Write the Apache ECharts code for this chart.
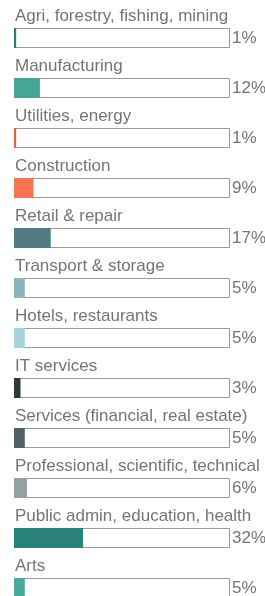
<!DOCTYPE html>
<html>
<head>
<meta charset="utf-8">
<script src="https://cdn.jsdelivr.net/npm/echarts@6/dist/echarts.min.js"></script>
<style>
  html, body { margin: 0; padding: 0; background: #fff; }
  #chart { width: 265px; height: 596px; }
</style>
</head>
<body>
<div id="chart"></div>
<script>
var categories = [
  'Agri, forestry, fishing, mining',
  'Manufacturing',
  'Utilities, energy',
  'Construction',
  'Retail & repair',
  'Transport & storage',
  'Hotels, restaurants',
  'IT services',
  'Services (financial, real estate)',
  'Professional, scientific, technical',
  'Public admin, education, health',
  'Arts'
];
var shares = [1, 12, 1, 9, 17, 5, 5, 3, 5, 6, 32, 5];
var barColors = [
  '#2e7d74', '#45a596', '#e5603e', '#fb7352', '#4f7b82', '#8fb3bb',
  '#a8d3dc', '#2d3a3d', '#50636a', '#93a1a5', '#2a8378', '#48a99c'
];
var fullScale = 100;

var chart = echarts.init(document.getElementById('chart'));
var textColor = '#747474';
var font = 'Liberation Sans, Arial, sans-serif';

chart.setOption({
  animation: false,
  grid: { left: 14, right: 35, top: 13, height: 600, outerBoundsMode: 'none', containLabel: false },
  xAxis: { type: 'value', min: 0, max: fullScale, show: false },
  yAxis: { type: 'category', data: categories, inverse: true, show: false },
  series: [
    {
      // white track with grey outline, carries the percent label
      type: 'bar',
      barWidth: 20,
      silent: true,
      data: categories.map(function () { return fullScale; }),
      itemStyle: { color: '#fff', borderColor: '#9a9a9a', borderWidth: 1 },
      label: {
        show: true,
        position: 'right',
        distance: 2,
        color: textColor,
        fontFamily: font,
        fontSize: 17,
        formatter: function (p) { return shares[p.dataIndex] + '%'; }
      },
      z: 1
    },
    {
      // coloured fill, carries the category name above the track
      type: 'bar',
      barWidth: 20,
      barGap: '-100%',
      data: shares.map(function (v, i) {
        return { value: v, itemStyle: { color: barColors[i] } };
      }),
      label: {
        show: true,
        position: [1, -12],
        align: 'left',
        verticalAlign: 'middle',
        color: textColor,
        fontFamily: font,
        fontSize: 17,
        formatter: function (p) { return categories[p.dataIndex]; }
      },
      z: 2
    }
  ]
});
</script>
</body>
</html>
